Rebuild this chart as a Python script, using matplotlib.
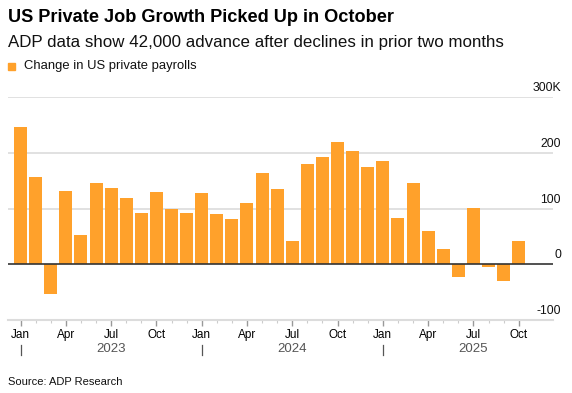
import numpy as np
import matplotlib.pyplot as plt
from matplotlib.transforms import blended_transform_factory, offset_copy

plt.rcParams['font.family'] = ['Liberation Sans', 'DejaVu Sans']

# 월별 민간 고용 변화 (천 명), 2023-01 ~ 2025-10
months = ['Jan', 'Feb', 'Mar', 'Apr', 'May', 'Jun', 'Jul', 'Aug', 'Sep', 'Oct', 'Nov', 'Dec']
values_2023 = [247, 157, -53, 131, 52, 146, 137, 119, 93, 130, 99, 93]
values_2024 = [128, 90, 81, 111, 164, 135, 41, 180, 193, 220, 204, 175]
values_2025 = [186, 83, 146, 59, 28, -23, 102, -4, -30, 42]
years = ['2023', '2024', '2025']
y_ticks = [-100, 0, 100, 200, 300]
y_labels = ['-100', '0', '100', '200', '300K']

values = values_2023 + values_2024 + values_2025
x = np.arange(len(values))
month_labels = (months * 3)[:len(values)]

W, H = 572, 393
fig = plt.figure(figsize=(W / 100, H / 100), dpi=100)
ax = fig.add_axes([8 / W, (H - 320) / H, 545 / W, 222.7 / H])

ax.bar(x, values, width=0.86, color='#FFA12B', zorder=2)

ax.set_xlim(-0.83, 35.27)
ax.set_ylim(-100, 300)

# 그리드 라인
for v in y_ticks:
    if v == 0:
        ax.axhline(v, color='#333333', lw=1.2, zorder=3)
    elif v != -100:
        ax.axhline(v, color='#dcdcdc', lw=1.2, zorder=1)

# 오른쪽 y 라벨 (라인 위에 배치)
trans_y = offset_copy(blended_transform_factory(fig.transFigure, ax.transData),
                      fig=fig, y=3, units='dots')
for v, lab in zip(y_ticks, y_labels):
    ax.text(561 / W, v, lab, transform=trans_y, ha='right', va='bottom',
            fontsize=8.8, color='#111111')

for s in ['top', 'right', 'left']:
    ax.spines[s].set_visible(False)
ax.spines['bottom'].set_color('#dcdcdc')
ax.spines['bottom'].set_linewidth(1.5)
ax.set_yticks([])

# x축 눈금
quarter_idx = [i for i in x if i % 3 == 0]
ax.set_xticks(quarter_idx)
ax.set_xticklabels([month_labels[i] for i in quarter_idx], fontsize=8.5)
ax.set_xticks(x, minor=True)
ax.tick_params(axis='x', which='major', length=4, width=1, color='#999999', pad=2.5)
ax.tick_params(axis='x', which='minor', length=2.5, width=0.8, color='#cccccc')

# 연도 라벨과 구분선
trans_x = blended_transform_factory(ax.transData, ax.transAxes)
for k, yr in enumerate(years):
    ax.text(12 * k + 6, (320 - 349) / 222.7, yr, transform=trans_x, ha='center',
            va='center', fontsize=9.5, color='#555555')
    ax.plot([12 * k, 12 * k], [(320 - 345) / 222.7, (320 - 355) / 222.7],
            transform=trans_x, color='#555555', lw=0.9, clip_on=False)

# 제목, 부제, 범례, 출처
fig.text(8 / W, 1 - 18 / H, 'US Private Job Growth Picked Up in October',
         fontsize=13.1, fontweight='bold', va='center', color='#000000')
fig.text(8 / W, 1 - 42 / H, 'ADP data show 42,000 advance after declines in prior two months',
         fontsize=12.2, va='center', color='#111111')
fig.patches.append(plt.Rectangle((8 / W, 1 - 70 / H), 7 / W, 7 / H,
                                 transform=fig.transFigure, color='#FFA12B'))
fig.text(24 / W, 1 - 66 / H, 'Change in US private payrolls', fontsize=9.4,
         va='center', color='#111111')
fig.text(8 / W, 1 - 382 / H, 'Source: ADP Research', fontsize=8,
         va='center', color='#111111')

fig.savefig('out.png', dpi=100)
